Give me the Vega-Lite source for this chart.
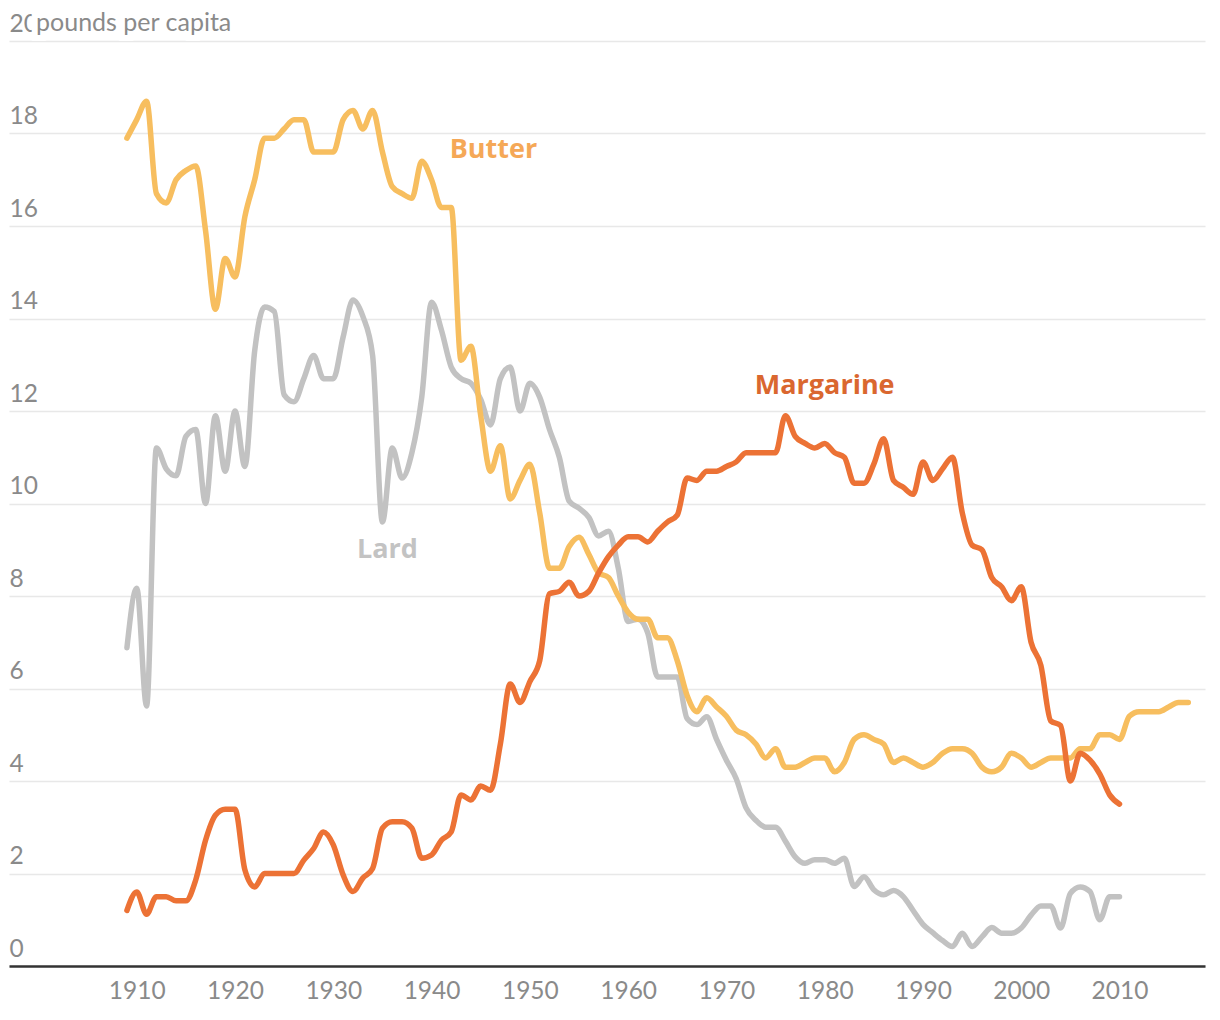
{
"$schema": "https://vega.github.io/schema/vega-lite/v6.json",
"width": 1196, "height": 925,
"autosize": {"type": "none"},
"padding": {"left": 9, "top": 41, "right": 15, "bottom": 54},
"background": "white",
"config": {"view": {"stroke": null}, "font": "Lato"},
"data": {"values": [
{"year":1909,"butter":17.9,"margarine":1.2,"lard":6.88},
{"year":1910,"butter":18.3,"margarine":1.6,"lard":8.17},
{"year":1911,"butter":18.7,"margarine":1.12,"lard":5.62},
{"year":1912,"butter":16.7,"margarine":1.5,"lard":11.2},
{"year":1913,"butter":16.5,"margarine":1.5,"lard":10.75},
{"year":1914,"butter":17.0,"margarine":1.41,"lard":10.6},
{"year":1915,"butter":17.2,"margarine":1.41,"lard":11.45},
{"year":1916,"butter":17.3,"margarine":1.86,"lard":11.6},
{"year":1917,"butter":15.9,"margarine":2.72,"lard":10.0},
{"year":1918,"butter":14.2,"margarine":3.26,"lard":11.9},
{"year":1919,"butter":15.3,"margarine":3.39,"lard":10.7},
{"year":1920,"butter":14.9,"margarine":3.39,"lard":12.0},
{"year":1921,"butter":16.2,"margarine":2.08,"lard":10.8},
{"year":1922,"butter":17.0,"margarine":1.71,"lard":13.3},
{"year":1923,"butter":17.9,"margarine":2.0,"lard":14.25},
{"year":1924,"butter":17.9,"margarine":2.0,"lard":14.15},
{"year":1925,"butter":18.1,"margarine":2.0,"lard":12.35},
{"year":1926,"butter":18.3,"margarine":2.0,"lard":12.2},
{"year":1927,"butter":18.3,"margarine":2.29,"lard":12.7},
{"year":1928,"butter":17.6,"margarine":2.54,"lard":13.2},
{"year":1929,"butter":17.6,"margarine":2.9,"lard":12.7},
{"year":1930,"butter":17.6,"margarine":2.62,"lard":12.7},
{"year":1931,"butter":18.3,"margarine":1.97,"lard":13.6},
{"year":1932,"butter":18.5,"margarine":1.61,"lard":14.4},
{"year":1933,"butter":18.1,"margarine":1.9,"lard":14.05},
{"year":1934,"butter":18.5,"margarine":2.11,"lard":13.2},
{"year":1935,"butter":17.6,"margarine":2.98,"lard":9.6},
{"year":1936,"butter":16.85,"margarine":3.12,"lard":11.2},
{"year":1937,"butter":16.7,"margarine":3.12,"lard":10.55},
{"year":1938,"butter":16.6,"margarine":2.98,"lard":11.1},
{"year":1939,"butter":17.4,"margarine":2.33,"lard":12.3},
{"year":1940,"butter":17.0,"margarine":2.4,"lard":14.35},
{"year":1941,"butter":16.4,"margarine":2.72,"lard":13.75},
{"year":1942,"butter":16.4,"margarine":2.9,"lard":12.95},
{"year":1943,"butter":13.1,"margarine":3.7,"lard":12.7},
{"year":1944,"butter":13.4,"margarine":3.59,"lard":12.6},
{"year":1945,"butter":11.9,"margarine":3.89,"lard":12.25},
{"year":1946,"butter":10.7,"margarine":3.8,"lard":11.7},
{"year":1947,"butter":11.25,"margarine":4.8,"lard":12.7},
{"year":1948,"butter":10.1,"margarine":6.1,"lard":12.95},
{"year":1949,"butter":10.5,"margarine":5.7,"lard":12.0},
{"year":1950,"butter":10.85,"margarine":6.15,"lard":12.6},
{"year":1951,"butter":9.8,"margarine":6.6,"lard":12.3},
{"year":1952,"butter":8.6,"margarine":8.05,"lard":11.6},
{"year":1953,"butter":8.6,"margarine":8.1,"lard":11.0},
{"year":1954,"butter":9.07,"margarine":8.3,"lard":10.05},
{"year":1955,"butter":9.27,"margarine":8.0,"lard":9.9},
{"year":1956,"butter":8.9,"margarine":8.1,"lard":9.7},
{"year":1957,"butter":8.5,"margarine":8.5,"lard":9.3},
{"year":1958,"butter":8.4,"margarine":8.85,"lard":9.4},
{"year":1959,"butter":8.0,"margarine":9.1,"lard":8.6},
{"year":1960,"butter":7.65,"margarine":9.28,"lard":7.45},
{"year":1961,"butter":7.5,"margarine":9.28,"lard":7.5},
{"year":1962,"butter":7.5,"margarine":9.17,"lard":7.2},
{"year":1963,"butter":7.1,"margarine":9.4,"lard":6.25},
{"year":1964,"butter":7.1,"margarine":9.6,"lard":6.25},
{"year":1965,"butter":6.6,"margarine":9.75,"lard":6.25},
{"year":1966,"butter":5.85,"margarine":10.55,"lard":5.35},
{"year":1967,"butter":5.5,"margarine":10.5,"lard":5.22},
{"year":1968,"butter":5.8,"margarine":10.7,"lard":5.39},
{"year":1969,"butter":5.6,"margarine":10.7,"lard":4.9},
{"year":1970,"butter":5.4,"margarine":10.8,"lard":4.45},
{"year":1971,"butter":5.1,"margarine":10.9,"lard":4.05},
{"year":1972,"butter":5.0,"margarine":11.1,"lard":3.42},
{"year":1973,"butter":4.8,"margarine":11.1,"lard":3.15},
{"year":1974,"butter":4.5,"margarine":11.1,"lard":3.0},
{"year":1975,"butter":4.7,"margarine":11.1,"lard":3.0},
{"year":1976,"butter":4.3,"margarine":11.9,"lard":2.7},
{"year":1977,"butter":4.3,"margarine":11.45,"lard":2.36},
{"year":1978,"butter":4.4,"margarine":11.3,"lard":2.22},
{"year":1979,"butter":4.5,"margarine":11.2,"lard":2.3},
{"year":1980,"butter":4.5,"margarine":11.3,"lard":2.3},
{"year":1981,"butter":4.2,"margarine":11.1,"lard":2.22},
{"year":1982,"butter":4.4,"margarine":11.0,"lard":2.33},
{"year":1983,"butter":4.9,"margarine":10.44,"lard":1.72},
{"year":1984,"butter":5.0,"margarine":10.44,"lard":1.93},
{"year":1985,"butter":4.9,"margarine":10.85,"lard":1.65},
{"year":1986,"butter":4.8,"margarine":11.4,"lard":1.54},
{"year":1987,"butter":4.4,"margarine":10.5,"lard":1.63},
{"year":1988,"butter":4.5,"margarine":10.35,"lard":1.5},
{"year":1989,"butter":4.4,"margarine":10.2,"lard":1.2},
{"year":1990,"butter":4.3,"margarine":10.9,"lard":0.9},
{"year":1991,"butter":4.4,"margarine":10.5,"lard":0.72},
{"year":1992,"butter":4.6,"margarine":10.75,"lard":0.55},
{"year":1993,"butter":4.7,"margarine":11.0,"lard":0.42},
{"year":1994,"butter":4.7,"margarine":9.8,"lard":0.71},
{"year":1995,"butter":4.6,"margarine":9.1,"lard":0.42},
{"year":1996,"butter":4.3,"margarine":9.0,"lard":0.63},
{"year":1997,"butter":4.2,"margarine":8.4,"lard":0.83},
{"year":1998,"butter":4.3,"margarine":8.2,"lard":0.71},
{"year":1999,"butter":4.6,"margarine":7.9,"lard":0.71},
{"year":2000,"butter":4.5,"margarine":8.2,"lard":0.82},
{"year":2001,"butter":4.3,"margarine":7.0,"lard":1.1},
{"year":2002,"butter":4.4,"margarine":6.5,"lard":1.3},
{"year":2003,"butter":4.5,"margarine":5.3,"lard":1.3},
{"year":2004,"butter":4.5,"margarine":5.2,"lard":0.82},
{"year":2005,"butter":4.5,"margarine":4.0,"lard":1.57},
{"year":2006,"butter":4.7,"margarine":4.6,"lard":1.71},
{"year":2007,"butter":4.7,"margarine":4.45,"lard":1.61},
{"year":2008,"butter":5.0,"margarine":4.15,"lard":1.0},
{"year":2009,"butter":5.0,"margarine":3.7,"lard":1.5},
{"year":2010,"butter":4.9,"margarine":3.5,"lard":1.5},
{"year":2011,"butter":5.4},
{"year":2012,"butter":5.5},
{"year":2013,"butter":5.5},
{"year":2014,"butter":5.5},
{"year":2015,"butter":5.6},
{"year":2016,"butter":5.7},
{"year":2017,"butter":5.7}
]},
"layer": [
  {"mark": {"type": "line", "interpolate": "monotone", "strokeWidth": 5.5, "color": "#C2C2C2", "strokeCap": "round", "strokeJoin": "round"},
   "encoding": {
     "x": {"field": "year", "type": "quantitative",
       "scale": {"domain": [1897, 2018.7], "nice": false, "zero": false},
       "axis": {"values": [1910,1920,1930,1940,1950,1960,1970,1980,1990,2000,2010], "format": "d", "title": null,
         "grid": false, "ticks": false, "domainColor": "#333333", "domainWidth": 2.5,
         "labelFont": "Lato", "labelFontSize": 24.5, "labelColor": "#8a8a8a", "labelPadding": 13}},
     "y": {"field": "lard", "type": "quantitative", "title": null,
     "scale": {"domain": [0, 20], "nice": false},
     "axis": {"values": [0,2,4,6,8,10,12,14,16,18,20], "title": null, "grid": true, "gridColor": "#e8e8e8", "gridWidth": 1.5,
       "domain": false, "ticks": false, "tickSize": 0, "labelAlign": "left", "labelPadding": 0, "labelBaseline": "alphabetic", "labelOffset": -10,
       "labelFont": "Lato", "labelFontSize": 24.5, "labelColor": "#8a8a8a"}}}},
  {"mark": {"type": "line", "interpolate": "monotone", "strokeWidth": 5.5, "color": "#F7BE5F", "strokeCap": "round", "strokeJoin": "round"},
   "encoding": {"x": {"field": "year", "type": "quantitative"}, "y": {"field": "butter", "type": "quantitative", "title": null}}},
  {"mark": {"type": "line", "interpolate": "monotone", "strokeWidth": 5.5, "color": "#EC7235", "strokeCap": "round", "strokeJoin": "round"},
   "encoding": {"x": {"field": "year", "type": "quantitative"}, "y": {"field": "margarine", "type": "quantitative", "title": null}}},
  {"data": {"values": [{"label": "pounds per capita"}]},
   "mark": {"type": "text", "align": "left", "baseline": "alphabetic", "dy": -10, "fontSize": 25, "font": "Lato", "fill": "white", "stroke": "white", "strokeWidth": 12},
   "encoding": {"x": {"datum": 1899.75}, "y": {"datum": 20}, "text": {"field": "label"}}},
  {"data": {"values": [{"label": "pounds per capita"}]},
   "mark": {"type": "text", "align": "left", "baseline": "alphabetic", "dy": -10, "fontSize": 25, "font": "Lato", "color": "#8a8a8a"},
   "encoding": {"x": {"datum": 1899.75}, "y": {"datum": 20}, "text": {"field": "label"}}},
  {"data": {"values": [{"label": "Butter"}]},
   "mark": {"type": "text", "align": "center", "baseline": "middle", "fontSize": 27, "fontWeight": "bold", "font": "Open Sans", "color": "#F5A857"},
   "encoding": {"x": {"datum": 1946.3}, "y": {"datum": 17.64}, "text": {"field": "label"}}},
  {"data": {"values": [{"label": "Margarine"}]},
   "mark": {"type": "text", "align": "center", "baseline": "middle", "fontSize": 27, "fontWeight": "bold", "font": "Open Sans", "color": "#DA672F"},
   "encoding": {"x": {"datum": 1980.0}, "y": {"datum": 12.54}, "text": {"field": "label"}}},
  {"data": {"values": [{"label": "Lard"}]},
   "mark": {"type": "text", "align": "center", "baseline": "middle", "fontSize": 27, "fontWeight": "bold", "font": "Open Sans", "color": "#C3C3C3"},
   "encoding": {"x": {"datum": 1935.5}, "y": {"datum": 9.0}, "text": {"field": "label"}}}
]
}
